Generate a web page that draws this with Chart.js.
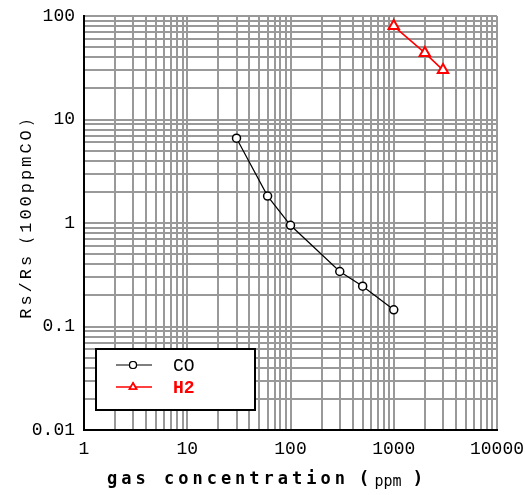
<!DOCTYPE html>
<html>
<head>
<meta charset="utf-8">
<script src="https://cdn.jsdelivr.net/npm/chart.js@4.4.0/dist/chart.umd.min.js"></script>
<style>
  html, body { margin: 0; padding: 0; background: #fff; }
  canvas { display: block; }
</style>
</head>
<body>
<canvas id="chart" width="525" height="495"></canvas>
<script>
// gas concentration (ppm) and Rs/Rs(100ppmCO)
const coPpm = [30, 60, 100, 300, 500, 1000];
const coRatio = [6.6, 1.82, 0.95, 0.34, 0.245, 0.145];
const h2Ppm = [1000, 2000, 3000];
const h2Ratio = [80, 44, 30];

const xDecades = [1, 10, 100, 1000, 10000];
const xTickLabels = ["1", "10", "100", "1000", "10000"];
const yDecades = [0.01, 0.1, 1, 10, 100];
const yTickLabels = ["0.01", "0.1", "1", "10", "100"];
const minorSteps = [1, 2, 3, 4, 5, 6, 7, 8, 9];

const seriesNames = ["CO", "H2"];
const xTitle = "gas concentration";
const xUnit = "ppm";
const yTitle = "Rs/Rs（100ppmCO）";

const TICK_FONT = "Liberation Mono";

// every decade gets 1..9 gridlines, like log paper
function logPaperTicks(decades) {
  const ticks = [];
  for (let i = 0; i < decades.length - 1; i++) {
    minorSteps.forEach(m => ticks.push({ value: decades[i] * m }));
  }
  ticks.push({ value: decades[decades.length - 1] });
  return ticks;
}

function decadeLabel(decades, labels) {
  return function(value) {
    const i = decades.findIndex(d => Math.abs(Math.log10(value) - Math.log10(d)) < 1e-6);
    return i >= 0 ? labels[i] : "";
  };
}

const titlesPlugin = {
  id: "titles",
  afterDraw(chart) {
    const ctx = chart.ctx;
    ctx.save();
    ctx.fillStyle = "#000";

    // x axis title
    ctx.textBaseline = "alphabetic";
    ctx.textAlign = "left";
    ctx.font = "bold 17px 'DejaVu Sans Mono'";
    ctx.letterSpacing = "4px";
    ctx.fillText(xTitle, 107, 484);
    ctx.letterSpacing = "0px";
    ctx.textAlign = "center";
    ctx.font = "bold 18px 'DejaVu Sans Mono'";
    ctx.fillText("(", 364, 484);
    ctx.fillText(")", 418, 484);
    ctx.font = "15px 'DejaVu Sans Mono'";
    ctx.fillText(xUnit, 388, 486);

    // y axis title
    ctx.translate(26, 213);
    ctx.rotate(-Math.PI / 2);
    ctx.textAlign = "center";
    ctx.textBaseline = "middle";
    ctx.font = "17px 'Liberation Mono'";
    ctx.letterSpacing = "3px";
    ctx.fillText(yTitle, 0, 0);
    ctx.restore();
  }
};

const legendBoxPlugin = {
  id: "legendBox",
  afterDraw(chart) {
    const ctx = chart.ctx;
    ctx.save();
    ctx.fillStyle = "#fff";
    ctx.fillRect(96, 349, 159, 61);
    ctx.strokeStyle = "#000";
    ctx.lineWidth = 2;
    ctx.strokeRect(96, 349, 159, 61);

    const rows = [365, 387];
    chart.data.datasets.forEach((ds, i) => {
      const y = rows[i];
      ctx.strokeStyle = ds.borderColor;
      ctx.lineWidth = ds.borderWidth;
      ctx.beginPath();
      ctx.moveTo(116, y);
      ctx.lineTo(152, y);
      ctx.stroke();
      Chart.helpers.drawPoint(ctx, {
        pointStyle: ds.pointStyle,
        radius: i === 0 ? 3.5 : 4,
        borderWidth: ds.pointBorderWidth,
        rotation: 0
      }, 133, y);
      ctx.fillStyle = "#fff";
      ctx.fill();
      ctx.stroke();
      ctx.fillStyle = ds.borderColor;
      ctx.font = (i === 1 ? "bold " : "") + "18px " + TICK_FONT;
      ctx.textAlign = "left";
      ctx.textBaseline = "middle";
      ctx.fillText(ds.label, 173, y + 1);
    });
    ctx.restore();
  }
};

new Chart(document.getElementById("chart"), {
  type: "scatter",
  data: {
    datasets: [
      {
        label: seriesNames[0],
        data: coPpm.map((x, i) => ({ x: x, y: coRatio[i] })),
        showLine: true,
        borderColor: "#000",
        borderWidth: 1.2,
        pointStyle: "circle",
        pointRadius: 4,
        pointBorderWidth: 1.5,
        pointBackgroundColor: "#fff",
        pointBorderColor: "#000"
      },
      {
        label: seriesNames[1],
        data: h2Ppm.map((x, i) => ({ x: x, y: h2Ratio[i] })),
        showLine: true,
        borderColor: "#ff0000",
        borderWidth: 1.6,
        pointStyle: "triangle",
        pointRadius: 6,
        pointBorderWidth: 2,
        pointBackgroundColor: "#fff",
        pointBorderColor: "#ff0000"
      }
    ]
  },
  options: {
    responsive: false,
    animation: false,
    clip: false,
    layout: { padding: { left: 0, right: 28, top: 16, bottom: 0 } },
    plugins: {
      legend: { display: false },
      tooltip: { enabled: false }
    },
    scales: {
      x: {
        type: "logarithmic",
        min: 1,
        max: 10000,
        afterBuildTicks: s => { s.ticks = logPaperTicks(xDecades); },
        afterFit: s => { s.height = 65; s.paddingLeft = 0; s.paddingRight = 0; },
        ticks: {
          autoSkip: false,
          maxRotation: 0,
          padding: 8,
          color: "#000",
          font: { family: TICK_FONT, size: 18 },
          callback: decadeLabel(xDecades, xTickLabels)
        },
        grid: { color: "#999", lineWidth: 2, drawTicks: false },
        border: { color: "#000", width: 2 }
      },
      y: {
        type: "logarithmic",
        min: 0.01,
        max: 100,
        afterBuildTicks: s => { s.ticks = logPaperTicks(yDecades); },
        afterFit: s => { s.width = 84; s.paddingTop = 0; s.paddingBottom = 0; },
        ticks: {
          autoSkip: false,
          padding: 9,
          color: "#000",
          font: { family: TICK_FONT, size: 18 },
          callback: decadeLabel(yDecades, yTickLabels)
        },
        grid: { color: "#999", lineWidth: 2, drawTicks: false },
        border: { color: "#000", width: 2 }
      }
    }
  },
  plugins: [titlesPlugin, legendBoxPlugin]
});
</script>
</body>
</html>
